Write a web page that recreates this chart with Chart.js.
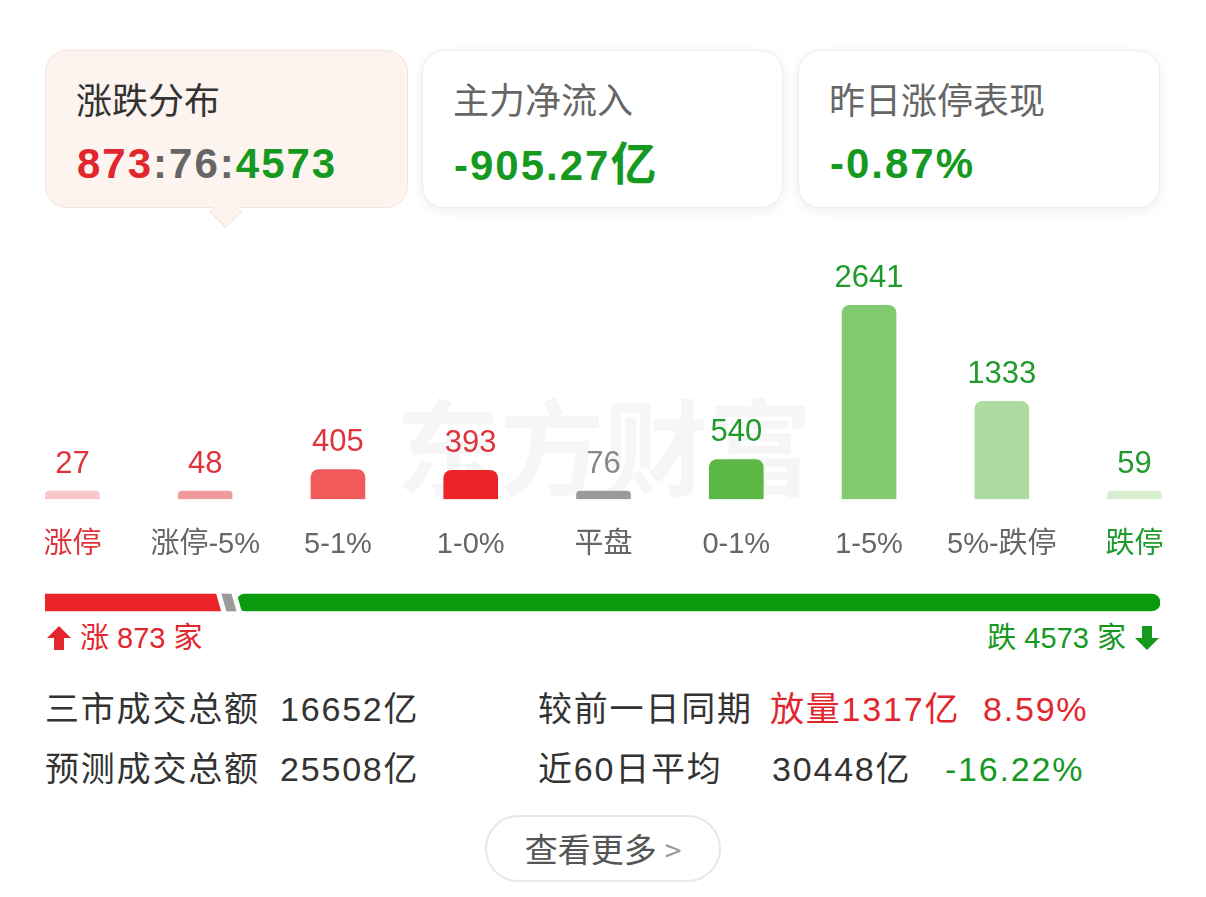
<!DOCTYPE html>
<html lang="zh">
<head>
<meta charset="UTF-8">
<title>涨跌分布</title>
<script src="https://cdn.jsdelivr.net/npm/chart.js@4.4.1/dist/chart.umd.min.js"></script>
<style>
  body { margin: 0; background: #fff; font-family: "Liberation Sans", "Noto Sans CJK SC", sans-serif; }
  .page { position: relative; width: 1206px; height: 897px; overflow: hidden; }
  .card { position: absolute; top: 50px; height: 158px; border-radius: 22px; background: #fff;
          border: 1px solid #ececec; box-shadow: 0 3px 12px rgba(0,0,0,0.07); box-sizing: border-box; }
  .card.active { background: #fdf4ef; border-color: #f5e2d9; box-shadow: none; }
  .card .t { position: absolute; left: 30px; top: 24px; font-size: 36px; color: #666; font-family: "Noto Sans CJK SC", sans-serif; line-height: 46px; }
  .card.active .t { color: #333; }
  .card .v { position: absolute; left: 31px; top: 88px; font-size: 42px; font-weight: bold; line-height: 50px; letter-spacing: 2px; }
  .pointer { position: absolute; left: 214px; top: 200px; width: 22px; height: 22px; background: #fdf4ef;
             transform: rotate(45deg); border-right: 1px solid #f5e2d9; border-bottom: 1px solid #f5e2d9; }
  .wm { position: absolute; left: 396px; top: 378px; font-size: 104px; font-weight: bold; color: #f6f6f6;
        font-family: "Noto Sans CJK SC", sans-serif; line-height: 130px; }
  #distBox { position: absolute; left: 6px; top: 250px; width: 1195px; height: 362px; }
  #ratioBox { position: absolute; left: 45px; top: 590px; width: 1115px; height: 25px; }
  .cnt { position: absolute; top: 620px; font-size: 29px; line-height: 36px; }
  .cnt svg { vertical-align: -3px; }
  .st { position: absolute; font-size: 34px; line-height: 40px; color: #333; letter-spacing: 1.8px; white-space: nowrap; }
  .btn { position: absolute; left: 485px; top: 815px; width: 236px; height: 67px; border: 2px solid #e8e8e8;
         border-radius: 36px; box-sizing: border-box; text-align: center; font-size: 33px; line-height: 63px;
         color: #555; font-family: "Noto Sans CJK SC", sans-serif; }
  .btn span { color: #999; font-size: 30px; margin-left: 8px; }
  .red, .st.red { color: #e2262d; }
  .grn, .st.grn { color: #16991f; }
  .gry { color: #666; }
</style>
</head>
<body>
<div class="page">

  <div class="card active" style="left:45px;width:363px;">
    <div class="t">涨跌分布</div>
    <div class="v"><span class="red">873</span><span class="gry">:76:</span><span class="grn">4573</span></div>
  </div>
  <div class="pointer"></div>
  <div class="card" style="left:422px;width:361px;">
    <div class="t">主力净流入</div>
    <div class="v grn">-905.27<span style="font-size:46px">亿</span></div>
  </div>
  <div class="card" style="left:798px;width:362px;">
    <div class="t">昨日涨停表现</div>
    <div class="v grn">-0.87%</div>
  </div>

  <div class="wm">东方财富</div>
  <div id="distBox"><canvas id="distChart"></canvas></div>
  <div id="ratioBox"><canvas id="ratioChart"></canvas></div>

  <div class="cnt red" style="left:46px;">
    <svg width="26" height="26" viewBox="0 0 26 26"><path d="M13 1 L25 13 L18 13 L18 25 L8 25 L8 13 L1 13 Z" fill="#e2262d"/></svg>
    涨 873 家
  </div>
  <div class="cnt grn" style="right:46px;">
    跌 4573 家
    <svg width="26" height="26" viewBox="0 0 26 26"><path d="M13 25 L25 13 L18 13 L18 1 L8 1 L8 13 L1 13 Z" fill="#16991f"/></svg>
  </div>

  <div class="st" style="left:45px;top:689px;">三市成交总额</div>
  <div class="st" style="left:280px;top:689px;">16652亿</div>
  <div class="st" style="left:45px;top:749px;">预测成交总额</div>
  <div class="st" style="left:280px;top:749px;">25508亿</div>
  <div class="st" style="left:538px;top:689px;">较前一日同期</div>
  <div class="st red" style="left:770px;top:689px;">放量1317亿</div>
  <div class="st red" style="left:983px;top:689px;">8.59%</div>
  <div class="st" style="left:538px;top:749px;">近60日平均</div>
  <div class="st" style="left:772px;top:749px;">30448亿</div>
  <div class="st grn" style="left:945px;top:749px;">-16.22%</div>

  <div class="btn">查看更多<span>&gt;</span></div>
</div>

<script>
  // 涨跌分布 数据
  const categories = ['涨停', '涨停-5%', '5-1%', '1-0%', '平盘', '0-1%', '1-5%', '5%-跌停', '跌停'];
  const counts = [27, 48, 405, 393, 76, 540, 2641, 1333, 59];
  const barColors = ['#f8c6c9', '#f19b9f', '#f15b5c', '#ea2428', '#9a9a9a', '#5cb845', '#82ca70', '#aedca0', '#d6efce'];
  const valueColors = ['#e0323a', '#e0323a', '#e0323a', '#e0323a', '#888888', '#1f9a2b', '#1f9a2b', '#1f9a2b', '#1f9a2b'];
  const tickColors = ['#e0323a', '#666', '#666', '#666', '#666', '#666', '#666', '#666', '#1f9a2b'];

  // 涨 / 平 / 跌 家数
  const ratioLabels = ['涨', '平', '跌'];
  const ratioValues = [873, 76, 4573];
  const ratioColors = ['#ea2428', '#9a9a9a', '#0a9a0e'];

  // 柱子上方的数字
  const valueLabels = {
    id: 'valueLabels',
    afterDatasetsDraw(chart) {
      const ctx = chart.ctx;
      const meta = chart.getDatasetMeta(0);
      ctx.save();
      ctx.font = '31px "Liberation Sans", sans-serif';
      ctx.textAlign = 'center';
      ctx.textBaseline = 'middle';
      meta.data.forEach(function (bar, i) {
        ctx.fillStyle = valueColors[i];
        ctx.fillText(String(counts[i]), bar.x, bar.y - 27);
      });
      ctx.restore();
    }
  };

  new Chart(document.getElementById('distChart'), {
    type: 'bar',
    data: {
      labels: categories,
      datasets: [{
        data: counts,
        backgroundColor: barColors,
        barThickness: 54,
        minBarLength: 8,
        borderRadius: { topLeft: 8, topRight: 8, bottomLeft: 0, bottomRight: 0 },
        borderSkipped: 'bottom'
      }]
    },
    options: {
      responsive: true,
      maintainAspectRatio: false,
      animation: false,
      layout: { padding: { top: 29, bottom: 22, left: 0, right: 0 } },
      plugins: { legend: { display: false }, tooltip: { enabled: false } },
      scales: {
        x: {
          grid: { display: false, drawTicks: false },
          border: { display: false },
          ticks: {
            padding: 28,
            font: { size: 29, family: '"Liberation Sans", "Noto Sans CJK SC", sans-serif' },
            color: function (c) { return tickColors[c.index]; }
          }
        },
        y: { display: false, min: 0, max: 3000 }
      }
    },
    plugins: [valueLabels]
  });

  // 斜切的白色间隔
  const slantGaps = {
    id: 'slantGaps',
    afterDatasetsDraw(chart) {
      const ctx = chart.ctx;
      ctx.save();
      ctx.strokeStyle = '#ffffff';
      ctx.lineWidth = 5;
      for (let d = 0; d < ratioValues.length - 1; d++) {
        const bar = chart.getDatasetMeta(d).data[0];
        const half = bar.height / 2;
        ctx.beginPath();
        ctx.moveTo(bar.x - 3, bar.y - half - 2);
        ctx.lineTo(bar.x + 3, bar.y + half + 2);
        ctx.stroke();
      }
      ctx.restore();
    }
  };

  const total = ratioValues.reduce((a, b) => a + b, 0);

  new Chart(document.getElementById('ratioChart'), {
    type: 'bar',
    data: {
      labels: ['家数'],
      datasets: ratioValues.map(function (v, i) {
        return {
          label: ratioLabels[i],
          data: [v],
          backgroundColor: ratioColors[i],
          barThickness: 17,
          borderSkipped: false,
          borderRadius: 9
        };
      })
    },
    options: {
      indexAxis: 'y',
      responsive: true,
      maintainAspectRatio: false,
      animation: false,
      layout: { padding: 0 },
      plugins: { legend: { display: false }, tooltip: { enabled: false } },
      scales: {
        x: { display: false, stacked: true, min: 0, max: total },
        y: { display: false, stacked: true }
      }
    },
    plugins: [slantGaps]
  });
</script>
</body>
</html>
